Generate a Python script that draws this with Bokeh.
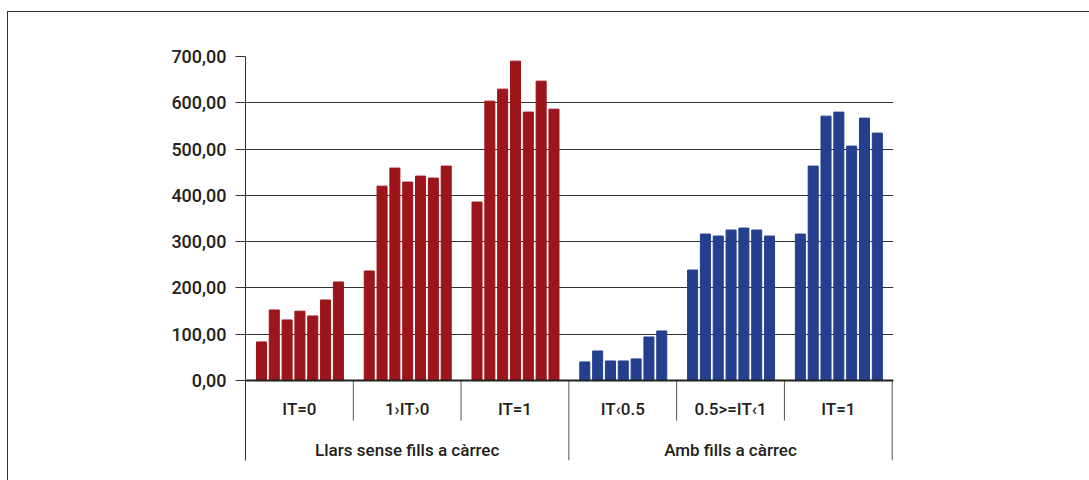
from bokeh.plotting import figure
from bokeh.models import Range1d, FixedTicker, Span, ColumnDataSource
from bokeh.core.properties import value
from bokeh.embed import file_html
from bokeh.resources import INLINE

# ---- data ----
supergroups = ["Llars sense fills a càrrec", "Amb fills a càrrec"]
subgroups = ["IT=0", "1›IT›0", "IT=1", "IT‹0.5", "0.5>=IT‹1", "IT=1"]
sub_parent = [0, 0, 0, 1, 1, 1]
it0 = [83.5, 152.5, 131.0, 150.0, 139.6, 174.0, 213.0]
it_mid = [236.7, 420.0, 459.0, 428.8, 441.7, 437.4, 463.3]
it1_a = [385.6, 603.6, 629.5, 690.0, 579.9, 646.8, 586.3]
it_low = [40.3, 64.0, 42.4, 42.4, 46.8, 94.2, 107.2]
it_half = [238.8, 316.5, 312.2, 325.2, 329.5, 325.2, 312.2]
it1_b = [316.5, 463.3, 571.2, 579.9, 506.5, 566.9, 534.5]
y_ticks = [0, 100, 200, 300, 400, 500, 600, 700]
y_tick_labels = ["0,00", "100,00", "200,00", "300,00", "400,00", "500,00", "600,00", "700,00"]

series = [it0, it_mid, it1_a, it_low, it_half, it1_b]
colors = ["#9b151b", "#243f8e"]

FONT = "Roboto Medium, Roboto"
TXT = "#231f20"
FS = "18px"
FS_CAT = "17px"

xs, tops, cols = [], [], []
for g, vals in enumerate(series):
    for i, v in enumerate(vals):
        xs.append(g + 0.505 + (i - 3) * 0.119)
        tops.append(v)
        cols.append(colors[sub_parent[g]])

src = ColumnDataSource(dict(x=xs, top=tops, color=cols))

p = figure(width=1082, height=469, output_backend="svg", toolbar_location=None,
           x_range=Range1d(0, 6.012), y_range=Range1d(-172.6, 700),
           x_axis_location=None, min_border_left=237, min_border_right=197,
           min_border_top=44, min_border_bottom=21)
p.styles = {"margin-left": "7px", "margin-top": "11px",
            "border-left": "1.5px solid #333333", "border-top": "1.5px solid #333333"}
p.outline_line_color = None
p.xgrid.visible = False

p.ygrid.ticker = FixedTicker(ticks=y_ticks)
p.ygrid.grid_line_color = "#333333"
p.ygrid.grid_line_width = 1

ax = p.yaxis[0]
ax.ticker = FixedTicker(ticks=y_ticks)
ax.major_label_overrides = {t: l for t, l in zip(y_ticks, y_tick_labels)}
ax.minor_tick_line_color = None
ax.major_tick_in = 0
ax.major_tick_out = 10
ax.major_tick_line_color = "#333333"
ax.axis_line_color = "#333333"
ax.major_label_standoff = 9
ax.major_label_text_font = FONT
ax.major_label_text_font_size = FS
ax.major_label_text_color = TXT

p.vbar(x="x", top="top", width=0.093, bottom=0, color="color", source=src)

p.add_layout(Span(location=0, dimension="width", line_color="#222222", line_width=2))

# separators in the category area
sx, sy0, sy1 = [], [], []
for b in range(1, 7):
    sx.append(b)
    sy0.append(0)
    sy1.append(-172.6 if b in (3, 6) else -86.4)
p.segment(x0=sx, y0=sy0, x1=sx, y1=sy1, line_color="#555555", line_width=1)

# category labels
p.text(x=[g + 0.5 for g in range(6)], y=[-60.5] * 6, text=subgroups,
       text_align="center", text_baseline="middle", text_font=value(FONT),
       text_font_size=FS_CAT, text_color=TXT)
p.text(x=[1.5, 4.5], y=[-151] * 2, text=supergroups,
       text_align="center", text_baseline="middle", text_font=value(FONT),
       text_font_size=FS_CAT, text_color=TXT)

open("out.html", "w").write(file_html(p, INLINE))
